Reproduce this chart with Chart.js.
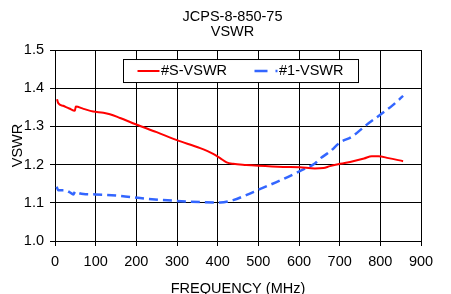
<!DOCTYPE html>
<html>
<head>
<meta charset="utf-8">
<script src="https://cdn.jsdelivr.net/npm/chart.js@4/dist/chart.umd.min.js"></script>
<style>
  body { margin: 0; background: #fff; }
  #wrap { width: 451px; height: 294px; position: relative; }
</style>
</head>
<body>
<div id="wrap"><canvas id="chartVswr"></canvas></div>
<script>
// datos
const titleLines = ['JCPS-8-850-75', 'VSWR'];
const freqS = [5, 8, 20, 35, 49, 51, 70, 94, 119, 135, 160, 200, 250, 300, 357, 389, 406, 422, 438, 470, 500, 561, 602, 639, 660, 676, 701, 733, 760, 779, 795, 820, 856];
const vswrS = [1.371, 1.361, 1.354, 1.347, 1.341, 1.352, 1.346, 1.339, 1.336, 1.332, 1.322, 1.305, 1.285, 1.264, 1.243, 1.228, 1.217, 1.206, 1.202, 1.199, 1.197, 1.194, 1.193, 1.19, 1.191, 1.196, 1.202, 1.209, 1.216, 1.222, 1.222, 1.217, 1.209];
const freq1 = [4, 8, 25, 37, 45, 50, 55, 70, 100, 152, 229, 300, 357, 406, 438, 470, 500, 561, 602, 639, 651, 676, 701, 730, 766, 799, 830, 856];
const vswr1 = [1.142, 1.133, 1.133, 1.127, 1.122, 1.13, 1.127, 1.123, 1.122, 1.119, 1.11, 1.105, 1.102, 1.101, 1.107, 1.12, 1.134, 1.162, 1.183, 1.203, 1.215, 1.234, 1.258, 1.273, 1.304, 1.33, 1.355, 1.38];
const seriesNames = ['#S-VSWR', '#1-VSWR'];
const xTicks = [0, 900, 100]; // min, max, paso
const yTicks = [1.0, 1.5, 0.1];

const FONT = 'Arial, "Liberation Sans", sans-serif';
const FSIZE = 14.5;
Chart.defaults.font.family = FONT;
Chart.defaults.font.size = FSIZE;
Chart.defaults.color = '#000';

function toPoints(xs, ys) {
    return xs.map((x, i) => ({ x: x, y: ys[i] }));
}

// leyenda con marco dentro del area del grafico
const boxLegend = {
    id: 'boxLegend',
    afterDraw(chart) {
        const ctx = chart.ctx;
        const a = chart.chartArea;
        const left = a.left + 68.5, top = a.top + 9.5, w = 235, h = 23;
        ctx.save();
        ctx.fillStyle = '#fff';
        ctx.fillRect(left, top, w, h);
        ctx.strokeStyle = '#000';
        ctx.lineWidth = 1;
        ctx.strokeRect(left, top, w, h);
        const cy = top + 11.5;
        const items = [
            { x: left + 14, len: 22, tx: left + 37.5 },
            { x: left + 131, len: 23, tx: left + 155.5 }
        ];
        ctx.font = FSIZE + 'px ' + FONT;
        ctx.textBaseline = 'middle';
        ctx.fillStyle = '#000';
        chart.data.datasets.forEach((ds, i) => {
            const it = items[i];
            ctx.strokeStyle = ds.borderColor;
            ctx.lineWidth = ds.borderWidth;
            ctx.setLineDash(ds.borderDash ? [13, 8] : []);
            ctx.beginPath();
            ctx.moveTo(it.x, cy);
            ctx.lineTo(it.x + it.len, cy);
            ctx.stroke();
            ctx.fillText(ds.label, it.tx, cy);
        });
        ctx.restore();
    }
};

const ctx = document.getElementById('chartVswr').getContext('2d');
const chart = new Chart(ctx, {
    type: 'line',
    data: {
        datasets: [{
            label: seriesNames[0],
            data: toPoints(freqS, vswrS),
            borderColor: '#ff0000',
            borderWidth: 2,
            pointRadius: 0,
            cubicInterpolationMode: 'monotone',
            fill: false
        }, {
            label: seriesNames[1],
            data: toPoints(freq1, vswr1),
            borderColor: '#3366ff',
            borderWidth: 2.5,
            borderDash: [9, 5],
            pointRadius: 0,
            cubicInterpolationMode: 'monotone',
            fill: false
        }]
    },
    options: {
        responsive: true,
        maintainAspectRatio: false,
        animation: false,
        layout: { padding: { left: 14, right: 0, top: 0, bottom: 0 } },
        plugins: {
            legend: { display: false },
            tooltip: { enabled: false },
            title: {
                display: true,
                text: titleLines,
                color: '#000',
                font: { size: FSIZE, weight: 'normal', lineHeight: 1.08 },
                padding: { top: 9, bottom: 9.7 }
            }
        },
        scales: {
            x: {
                type: 'linear',
                min: xTicks[0],
                max: xTicks[1],
                ticks: { stepSize: xTicks[2], padding: 7.5, color: '#000' },
                grid: { color: '#000', tickLength: 5 },
                border: { color: '#000' },
                title: { display: true, text: 'FREQUENCY (MHz)', color: '#000', padding: { top: 0, bottom: -3.5 } },
                afterFit(scale) {
                    scale.height = 53;
                    scale.paddingRight = 30;
                }
            },
            y: {
                min: yTicks[0],
                max: yTicks[1],
                ticks: {
                    stepSize: yTicks[2],
                    padding: 6,
                    color: '#000',
                    callback: v => v.toFixed(1)
                },
                grid: { color: '#000', tickLength: 5 },
                border: { color: '#000' },
                title: { display: true, text: 'VSWR', color: '#000', padding: { top: -4.7, bottom: 0 } },
                afterFit(scale) {
                    scale.width = 41;
                }
            }
        }
    },
    plugins: [boxLegend]
});
</script>
</body>
</html>
